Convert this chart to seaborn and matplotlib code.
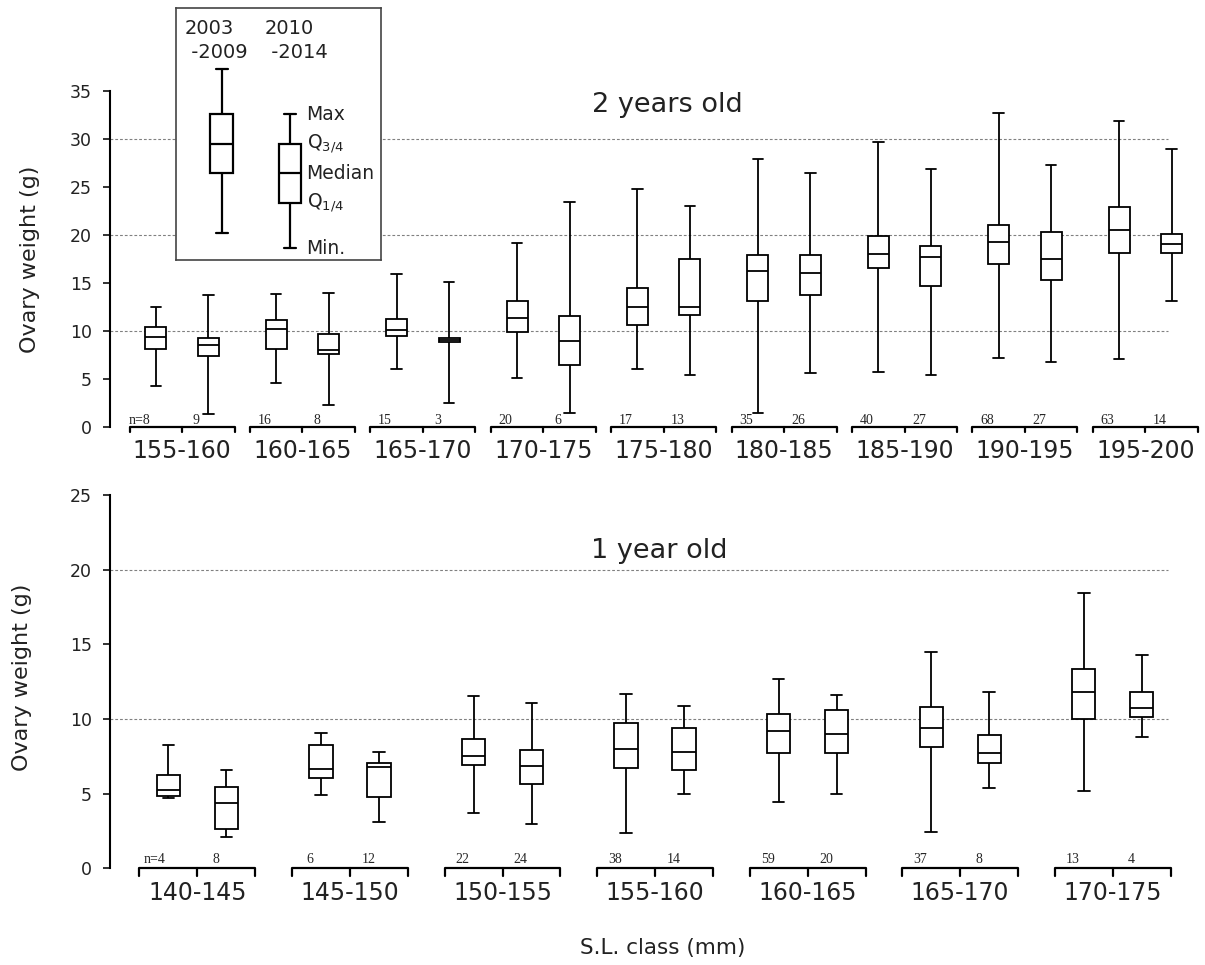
import pandas as pd
import seaborn as sns
import matplotlib.pyplot as plt

# five-number summaries: min, Q1, median, Q3, max
periods = ["2003-2009", "2010-2014"]

classes_2y = ["155-160", "160-165", "165-170", "170-175", "175-180",
              "180-185", "185-190", "190-195", "195-200"]
early_2y = [
    [4.27, 8.08, 9.4, 10.4, 12.45],
    [4.54, 8.15, 10.23, 11.13, 13.84],
    [6.0, 9.5, 10.1, 11.2, 15.9],
    [5.13, 9.92, 11.34, 13.1, 19.2],
    [6.07, 10.58, 12.5, 14.5, 24.8],
    [1.5, 13.15, 16.27, 17.85, 27.9],
    [5.76, 16.58, 18.03, 19.84, 29.66],
    [7.18, 16.96, 19.25, 21.0, 32.7],
    [7.1, 18.14, 20.53, 22.86, 31.8],
]
late_2y = [
    [1.35, 7.39, 8.5, 9.23, 13.74],
    [2.25, 7.6, 8.0, 9.65, 13.9],
    [2.46, 8.8, 9.05, 9.3, 15.05],
    [1.42, 6.5, 8.98, 11.6, 23.4],
    [5.37, 11.65, 12.5, 17.45, 23.0],
    [5.58, 13.77, 16.0, 17.9, 26.4],
    [5.44, 14.7, 17.69, 18.87, 26.9],
    [6.76, 15.3, 17.5, 20.3, 27.3],
    [13.08, 18.14, 19.07, 20.1, 28.9],
]
n_early_2y = [8, 16, 15, 20, 17, 35, 40, 68, 63]
n_late_2y = [9, 8, 3, 6, 13, 26, 27, 27, 14]

classes_1y = ["140-145", "145-150", "150-155", "155-160", "160-165",
              "165-170", "170-175"]
early_1y = [
    [4.69, 4.84, 5.24, 6.25, 8.28],
    [4.89, 6.05, 6.63, 8.24, 9.06],
    [3.7, 6.94, 7.52, 8.66, 11.54],
    [2.39, 6.72, 8.01, 9.75, 11.65],
    [4.46, 7.74, 9.22, 10.33, 12.68],
    [2.43, 8.12, 9.4, 10.8, 14.49],
    [5.18, 9.98, 11.79, 13.37, 18.46],
]
late_1y = [
    [2.08, 2.61, 4.4, 5.45, 6.56],
    [3.1, 4.8, 6.76, 7.03, 7.77],
    [3.0, 5.65, 6.87, 7.92, 11.07],
    [4.98, 6.6, 7.81, 9.38, 10.85],
    [5.0, 7.7, 9.0, 10.62, 11.59],
    [5.4, 7.05, 7.74, 8.95, 11.81],
    [8.79, 10.11, 10.76, 11.81, 14.29],
]
n_early_1y = [4, 6, 22, 38, 59, 37, 13]
n_late_1y = [8, 12, 24, 14, 20, 8, 4]

# key box in the inset (arbitrary units)
key_early = [27, 87, 116, 146, 191]
key_late = [12, 57, 87, 116, 146]
key_labels = ["Min.", r"Q$_{1/4}$", "Median", r"Q$_{3/4}$", "Max"]

sns.set_style("ticks")
plt.rcParams["font.family"] = ["DejaVu Sans"]

fig = plt.figure(figsize=(12.05, 9.65), dpi=100)


def draw_panel(ax, classes, early, late, n_early, n_late, ymax, width,
               xlim, grid_end, title, title_xy, tick):
    rows = []
    for c, a, b in zip(classes, early, late):
        rows += [(c, periods[0], v) for v in a]
        rows += [(c, periods[1], v) for v in b]
    df = pd.DataFrame(rows, columns=["cls", "period", "weight"])

    for y in range(10, ymax, 10):
        ax.hlines(y, xlim[0], grid_end, colors="#808080", lw=0.8,
                  linestyles=(0, (2.5, 1.8)), zorder=0)

    sns.boxplot(data=df, x="cls", y="weight", hue="period", order=classes,
                hue_order=periods, width=width, gap=0.6, whis=(0, 100),
                palette={p: "white" for p in periods}, linecolor="black",
                linewidth=1.3, legend=False, ax=ax)

    # brackets under each size class, with sample sizes above them
    h = width / 2
    base = tick * 0.65
    for i in range(len(classes)):
        ax.plot([i - h, i - h, i + h, i + h], [-tick, 0, 0, -tick],
                color="black", lw=1.6, clip_on=False)
        ax.plot([i, i], [0, -tick], color="black", lw=1.6, clip_on=False)
        for k, n in enumerate([n_early[i], n_late[i]]):
            x0 = i - h + k * h
            if i == 0 and k == 0:
                ax.text(x0 + 0.17, base, f"n={n}", ha="right", va="baseline",
                        fontsize=10, family="Liberation Serif")
            else:
                ax.text(x0 + 0.12, base, str(n), ha="center", va="baseline",
                        fontsize=10, family="Liberation Serif")

    ax.set_xlim(*xlim)
    ax.set_ylim(0, ymax)
    ax.set_yticks(range(0, ymax + 1, 5))
    ax.set_xlabel("")
    ax.set_ylabel("")
    for s in ["top", "right", "bottom"]:
        ax.spines[s].set_visible(False)
    ax.spines["left"].set_linewidth(1.5)
    ax.spines["left"].set_color("black")
    ax.tick_params(axis="y", direction="out", length=5, width=1.3,
                   labelsize=12.5, pad=8, colors="#222222")
    ax.tick_params(axis="x", length=0, pad=9, labelsize=17,
                   labelcolor="#222222")
    ax.text(title_xy[0], title_xy[1], title, ha="center", va="center",
            fontsize=19.5, color="#222222")
    ax.patch.set_alpha(0)


ax_top = fig.add_axes([110 / 1205, 1 - 427 / 965, 1090 / 1205, 336.3 / 965])
draw_panel(ax_top, classes_2y, early_2y, late_2y, n_early_2y, n_late_2y,
           35, 0.872, (-0.598, 8.454), 8.19, "2 years old", (4.03, 33.5), 0.52)

ax_bot = fig.add_axes([110 / 1205, 1 - 868.3 / 965, 1090 / 1205, 373.3 / 965])
draw_panel(ax_bot, classes_1y, early_1y, late_1y, n_early_1y, n_late_1y,
           25, 0.76, (-0.573, 6.572), 6.36, "1 year old", (3.03, 21.25), 0.5)

fig.text(30 / 1205, 1 - 259 / 965, "Ovary weight (g)", rotation=90,
         ha="center", va="center", fontsize=16, color="#222222")
fig.text(22 / 1205, 1 - 677 / 965, "Ovary weight (g)", rotation=90,
         ha="center", va="center", fontsize=16, color="#222222")
fig.text(663 / 1205, 1 - 948 / 965, "S.L. class (mm)", ha="center",
         va="center", fontsize=15.5, color="#222222")

# key inset
ax_key = fig.add_axes([176 / 1205, 1 - 260 / 965, 205 / 1205, 252 / 965])
ax_key.set_facecolor("white")
key_df = pd.DataFrame({
    "period": [periods[0]] * 5 + [periods[1]] * 5,
    "value": key_early + key_late,
})
sns.boxplot(data=key_df, x="period", y="value", order=periods, width=0.337,
            whis=(0, 100), color="white", linecolor="black", linewidth=1.6,
            ax=ax_key)
ax_key.set_xlim(-0.675, 2.337)
ax_key.set_ylim(0, 252)
ax_key.set_xticks([])
ax_key.set_yticks([])
ax_key.set_xlabel("")
ax_key.set_ylabel("")
for s in ax_key.spines.values():
    s.set_visible(True)
    s.set_color("#444444")
    s.set_linewidth(1.2)
ax_key.text(0.044, 0.955, "2003\n -2009", transform=ax_key.transAxes,
            ha="left", va="top", fontsize=14, linespacing=1.3, color="#222222")
ax_key.text(0.434, 0.955, "2010\n -2014", transform=ax_key.transAxes,
            ha="left", va="top", fontsize=14, linespacing=1.3, color="#222222")
trans = ax_key.get_yaxis_transform()
for v, lab in zip(key_late, key_labels):
    ax_key.text(0.637, v, lab, transform=trans, ha="left", va="center",
                fontsize=13.5, color="#222222")

fig.savefig("out.png", dpi=100)
